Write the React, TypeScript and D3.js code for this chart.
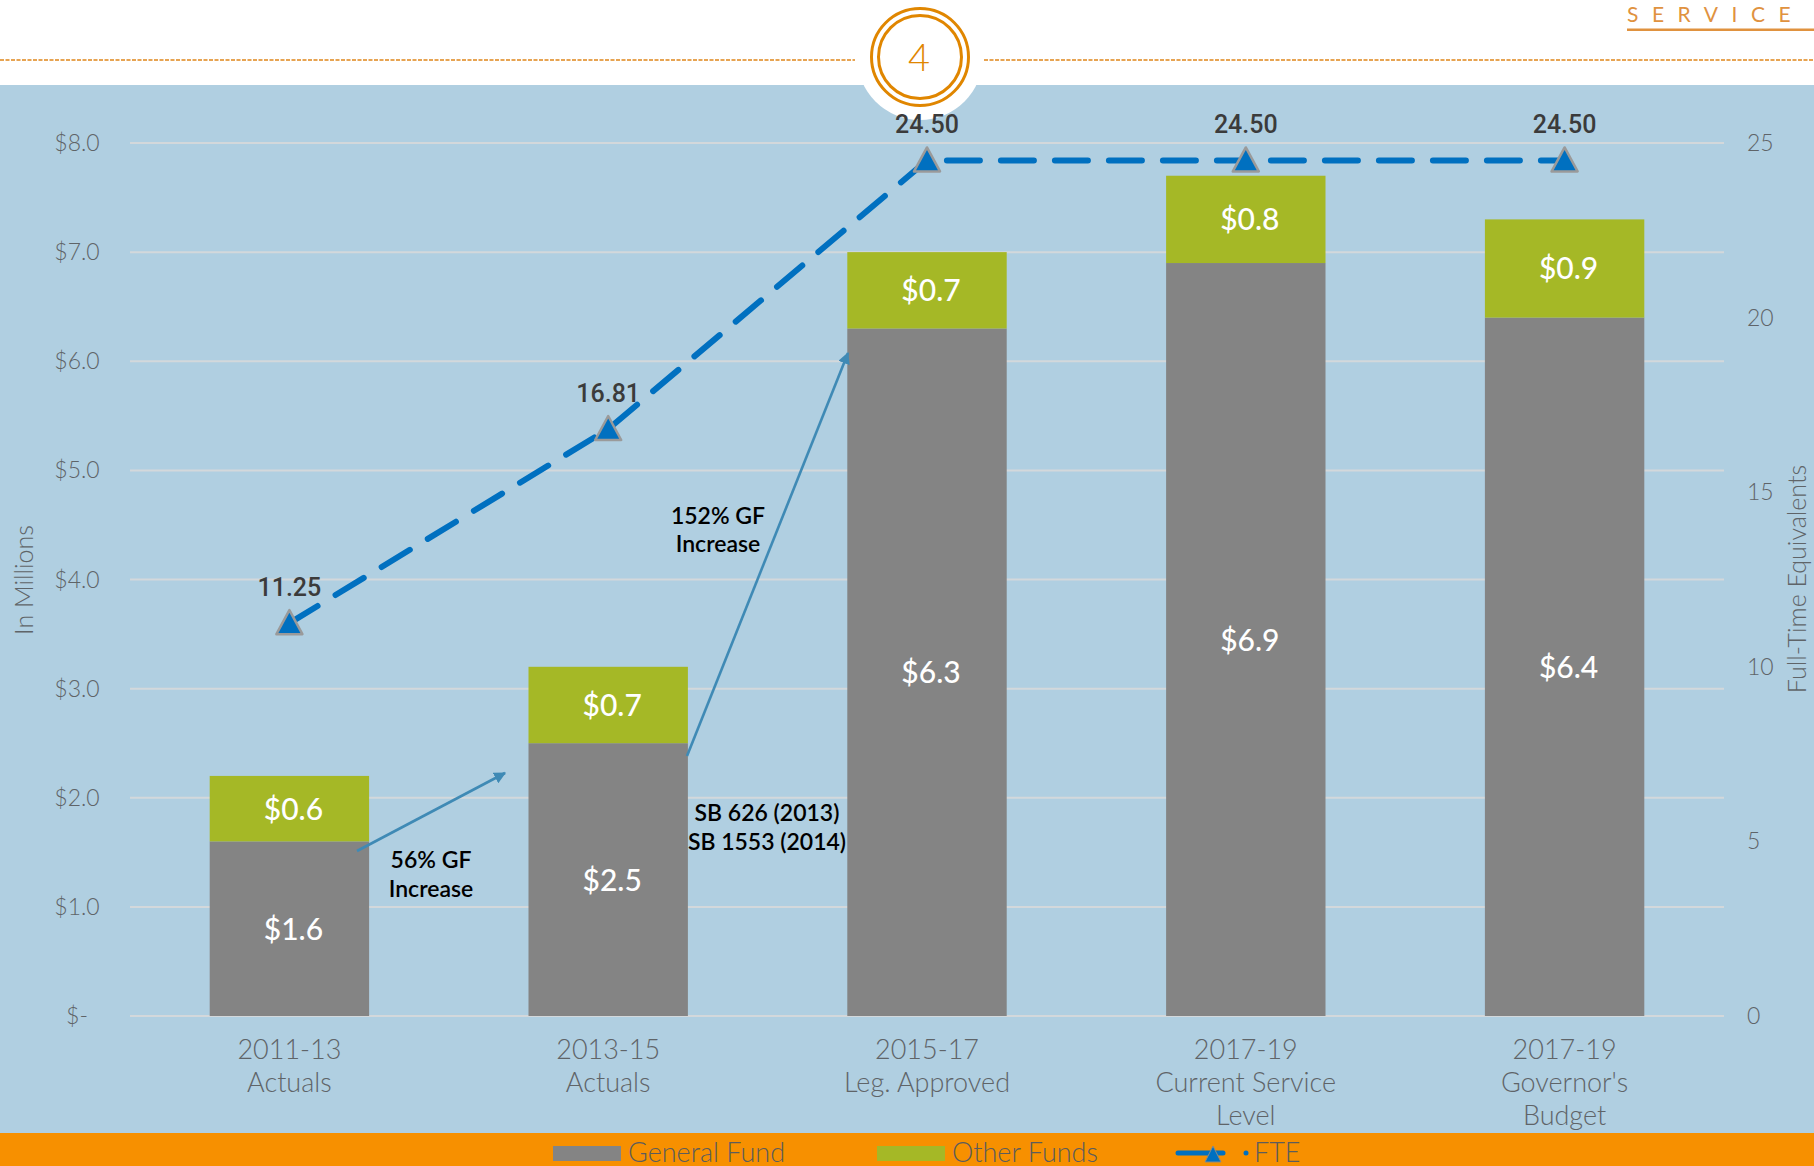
import React from "react";
import * as d3 from "d3";

const categories = [
  ["2011-13", "Actuals"],
  ["2013-15", "Actuals"],
  ["2015-17", "Leg. Approved"],
  ["2017-19", "Current Service", "Level"],
  ["2017-19", "Governor's", "Budget"],
];
const generalFund = [1.6, 2.5, 6.3, 6.9, 6.4];
const otherFunds = [0.6, 0.7, 0.7, 0.8, 0.9];
const fte = [11.25, 16.81, 24.5, 24.5, 24.5];
const leftTicks = [0, 1, 2, 3, 4, 5, 6, 7, 8];
const rightTicks = [0, 5, 10, 15, 20, 25];

const W = 1814, H = 1166;
const plot = { l: 130, r: 1724, t: 143, b: 1016 };
const BLUE = "#b0cfe1", ORANGE = "#f79000", GRAY = "#848484", GREEN = "#a5b826", LINE = "#0070c0";
const TICK = "#5f6468";
const tickFont = "Lato, 'Open Sans', sans-serif";
const labelFont = "Lato, sans-serif";

const idx = categories.map((_, i) => i);
const x = d3.scaleBand<number>().domain(idx).range([plot.l, plot.r]).paddingInner(0.5).paddingOuter(0.25);
const y = d3.scaleLinear().domain([0, 8]).range([plot.b, plot.t]);
const y2 = d3.scaleLinear().domain([0, 25]).range([plot.b, plot.t]);
const cx = (i: number) => x(i)! + x.bandwidth() / 2;
const linePath = d3.line<number>().x((_, i) => cx(i)).y((d) => y2(d))(fte)!;
const tri = (px: number, py: number, s = 13) => `M${px},${py - s}L${px + s},${py + 11}L${px - s},${py + 11}Z`;

export default function App() {
  return (
    <svg width={W} height={H} style={{ position: "absolute", left: 0, top: 0, background: "#fff" }}>
      <defs>
        <marker id="ah" viewBox="0 0 10 10" refX="9" refY="5" markerWidth="4.6" markerHeight="4.6" orient="auto">
          <path d="M0,0L10,5L0,10Z" fill="#3f8ab5" />
        </marker>
      </defs>
      <rect x={0} y={85} width={W} height={1048} fill={BLUE} />
      <rect x={0} y={1133} width={W} height={33} fill={ORANGE} />

      {/* header */}
      <line x1={0} x2={855} y1={60} y2={60} stroke="#e0861a" strokeWidth={1.6} strokeDasharray="4 1.5" />
      <line x1={984} x2={W} y1={60} y2={60} stroke="#e0861a" strokeWidth={1.6} strokeDasharray="4 1.5" />
      <circle cx={920} cy={57} r={63} fill="#fff" />
      <circle cx={920} cy={57} r={48.5} fill="#fff" stroke="#e08600" strokeWidth={3} />
      <circle cx={920} cy={57} r={41.5} fill="none" stroke="#e08600" strokeWidth={3} />
      <text x={919} y={71} textAnchor="middle" fontFamily={tickFont} fontWeight={300} fontSize={38} fill="#e08600">4</text>
      <text x={1627} y={22} fontFamily={tickFont} fontWeight={400} fontSize={21} letterSpacing={13.5} fill="#e0923f">SERVICE</text>
      <rect x={1627} y={28.5} width={187} height={2.5} fill="#e0923f" />

      {/* gridlines */}
      {leftTicks.map((t) => (
        <line key={t} x1={plot.l} x2={plot.r} y1={y(t)} y2={y(t)} stroke="#d3d8db" strokeWidth={2} />
      ))}

      {/* bars */}
      {idx.map((i) => (
        <g key={i}>
          <rect x={x(i)} y={y(generalFund[i])} width={x.bandwidth()} height={plot.b - y(generalFund[i])} fill={GRAY} />
          <rect x={x(i)} y={y(generalFund[i] + otherFunds[i])} width={x.bandwidth()} height={y(generalFund[i]) - y(generalFund[i] + otherFunds[i])} fill={GREEN} />
          <text x={cx(i) + 4} y={y(generalFund[i] / 2) + 11} textAnchor="middle" fill="#fff" fontFamily={labelFont} fontWeight={500} fontSize={30}>
            {`$${generalFund[i].toFixed(1)}`}
          </text>
          <text x={cx(i) + 4} y={y(generalFund[i] + otherFunds[i] / 2) + 11} textAnchor="middle" fill="#fff" fontFamily={labelFont} fontWeight={500} fontSize={30}>
            {`$${otherFunds[i].toFixed(1)}`}
          </text>
        </g>
      ))}

      {/* annotations */}
      <line x1={357} y1={851} x2={505} y2={773} stroke="#3f8ab5" strokeWidth={2.6} markerEnd="url(#ah)" />
      <line x1={687} y1={756} x2={848} y2={353} stroke="#3f8ab5" strokeWidth={2.6} markerEnd="url(#ah)" />
      {[
        ["56% GF", 431, 868], ["Increase", 431, 897],
        ["152% GF", 718, 524], ["Increase", 718, 552],
        ["SB 626 (2013)", 767, 821], ["SB 1553 (2014)", 767, 850],
      ].map(([t, px, py], k) => (
        <text key={k} x={px as number} y={py as number} textAnchor="middle" fill="#000" fontFamily={labelFont} fontWeight={600} fontSize={23}>{t}</text>
      ))}

      {/* FTE line */}
      <path d={linePath} fill="none" stroke={LINE} strokeWidth={6} strokeLinecap="round" strokeDasharray="33 21" />
      {fte.map((v, i) => (
        <g key={i}>
          <path d={tri(cx(i), y2(v))} fill={LINE} stroke="#9a9a9a" strokeWidth={2.5} strokeLinejoin="round" />
          <text x={cx(i)} y={y2(v) - 27} textAnchor="middle" fill="#3b3b3b" fontFamily="Roboto, sans-serif" fontWeight={500} fontSize={25}>
            {v.toFixed(2)}
          </text>
        </g>
      ))}

      {/* axes */}
      {leftTicks.map((t) => (
        <text key={t} x={77} y={y(t) + 8} textAnchor="middle" fill={TICK} fontFamily={tickFont} fontWeight={300} fontSize={23}>
          {t === 0 ? "$-" : `$${t.toFixed(1)}`}
        </text>
      ))}
      {rightTicks.map((t) => (
        <text key={t} x={1747} y={y2(t) + 8} fill={TICK} fontFamily={tickFont} fontWeight={300} fontSize={23}>{t}</text>
      ))}
      {categories.map((lines, i) => (
        <g key={i}>
          {lines.map((s, k) => (
            <text key={k} x={cx(i)} y={1059 + k * 33} textAnchor="middle" fill={TICK} fontFamily={tickFont} fontWeight={300} fontSize={27}>{s}</text>
          ))}
        </g>
      ))}
      <text transform="translate(33,580) rotate(-90)" textAnchor="middle" fill={TICK} fontFamily={tickFont} fontWeight={300} fontSize={25}>In Millions</text>
      <text transform="translate(1806,579) rotate(-90)" textAnchor="middle" fill={TICK} fontFamily={tickFont} fontWeight={300} fontSize={25}>Full-Time Equivalents</text>

      {/* legend */}
      <rect x={553} y={1146} width={68} height={15} fill={GRAY} />
      <text x={628} y={1162} fill="#5c5c5c" fontFamily={tickFont} fontWeight={300} fontSize={27}>General Fund</text>
      <rect x={877} y={1146} width={68} height={15} fill={GREEN} />
      <text x={952} y={1162} fill="#5c5c5c" fontFamily={tickFont} fontWeight={300} fontSize={27}>Other Funds</text>
      <line x1={1178} x2={1223} y1={1153} y2={1153} stroke={LINE} strokeWidth={5} strokeLinecap="round" />
      <path d="M1213,1146L1221,1162L1205,1162Z" fill={LINE} stroke="#8a8a8a" strokeWidth={1} />
      <circle cx={1246} cy={1153} r={2.5} fill={LINE} />
      <text x={1254} y={1162} fill="#5c5c5c" fontFamily={tickFont} fontWeight={300} fontSize={27}>FTE</text>
    </svg>
  );
}
